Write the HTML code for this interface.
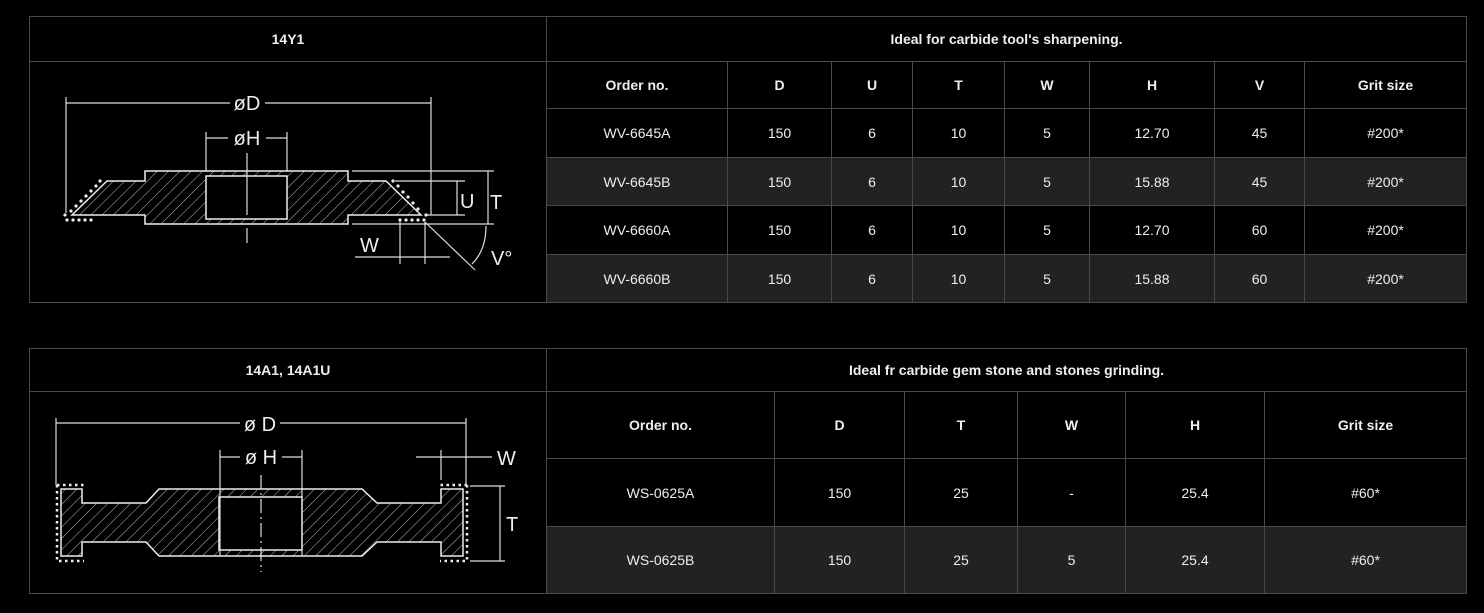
<!DOCTYPE html>
<html><head><meta charset="utf-8"><style>
body{margin:0;background:#000;width:1484px;height:613px;overflow:hidden;font-family:"Liberation Sans",Arial,sans-serif;color:#eee;position:relative}
table{position:absolute;left:29px;border-collapse:collapse;table-layout:fixed}
td{border:1px solid #4a4a4a;text-align:center;font-size:14px;padding:0}
.h td,td.h{font-weight:bold}
tr.g td.c{background:#222}
svg{position:absolute;left:0;top:0}
</style></head><body>
<table style="top:16px;width:1438px">
<colgroup><col style="width:517px"><col style="width:181px"><col style="width:104px"><col style="width:81px"><col style="width:92px"><col style="width:85px"><col style="width:125px"><col style="width:90px"><col style="width:162px"></colgroup>
<tr style="height:45px"><td class="h">14Y1</td><td class="h" colspan="8">Ideal for carbide tool's sharpening.</td></tr>
<tr style="height:47px" class="h"><td rowspan="5"></td><td>Order no.</td><td>D</td><td>U</td><td>T</td><td>W</td><td>H</td><td>V</td><td>Grit size</td></tr>
<tr style="height:49px"><td class="c">WV-6645A</td><td class="c">150</td><td class="c">6</td><td class="c">10</td><td class="c">5</td><td class="c">12.70</td><td class="c">45</td><td class="c">#200*</td></tr>
<tr style="height:48px" class="g"><td class="c">WV-6645B</td><td class="c">150</td><td class="c">6</td><td class="c">10</td><td class="c">5</td><td class="c">15.88</td><td class="c">45</td><td class="c">#200*</td></tr>
<tr style="height:49px"><td class="c">WV-6660A</td><td class="c">150</td><td class="c">6</td><td class="c">10</td><td class="c">5</td><td class="c">12.70</td><td class="c">60</td><td class="c">#200*</td></tr>
<tr style="height:48px" class="g"><td class="c">WV-6660B</td><td class="c">150</td><td class="c">6</td><td class="c">10</td><td class="c">5</td><td class="c">15.88</td><td class="c">60</td><td class="c">#200*</td></tr>
</table>
<table style="top:348px;width:1438px">
<colgroup><col style="width:517px"><col style="width:228px"><col style="width:130px"><col style="width:113px"><col style="width:108px"><col style="width:139px"><col style="width:202px"></colgroup>
<tr style="height:43px"><td class="h">14A1, 14A1U</td><td class="h" colspan="6">Ideal fr carbide gem stone and stones grinding.</td></tr>
<tr style="height:67px" class="h"><td rowspan="3"></td><td>Order no.</td><td>D</td><td>T</td><td>W</td><td>H</td><td>Grit size</td></tr>
<tr style="height:68px"><td class="c">WS-0625A</td><td class="c">150</td><td class="c">25</td><td class="c">-</td><td class="c">25.4</td><td class="c">#60*</td></tr>
<tr style="height:67px" class="g"><td class="c">WS-0625B</td><td class="c">150</td><td class="c">25</td><td class="c">5</td><td class="c">25.4</td><td class="c">#60*</td></tr>
</table>
<svg width="1484" height="613" fill="none" stroke="#ddd" stroke-width="1.2">
<defs><pattern id="hp" width="8" height="8" patternUnits="userSpaceOnUse" patternTransform="rotate(45)"><line x1="0" y1="0" x2="0" y2="8" stroke="#bbb" stroke-width="1"/></pattern></defs>
<g>
<line x1="66" y1="97" x2="66" y2="213"/><line x1="431" y1="97" x2="431" y2="215"/>
<line x1="66" y1="103" x2="230" y2="103"/><line x1="265" y1="103" x2="431" y2="103"/>
<text x="247" y="110" fill="#eee" stroke="none" font-size="20" text-anchor="middle" font-family="Liberation Sans">øD</text>
<line x1="206" y1="132" x2="206" y2="171"/><line x1="287" y1="132" x2="287" y2="171"/>
<line x1="206" y1="138" x2="228" y2="138"/><line x1="266" y1="138" x2="287" y2="138"/>
<text x="247" y="145" fill="#eee" stroke="none" font-size="20" text-anchor="middle" font-family="Liberation Sans">øH</text>
<path d="M145 171 H348 V181 H386 L421 215 H348 V224 H145 V215 H72 L107 181 H145 Z" fill="url(#hp)" stroke="#eee" stroke-width="1.5"/>
<rect x="206" y="176" width="81" height="43" fill="#000" stroke="#eee" stroke-width="1.5"/>
<line x1="247" y1="153" x2="247" y2="215"/><line x1="247" y1="228" x2="247" y2="243"/>
<line x1="352" y1="171" x2="494" y2="171"/><line x1="352" y1="224" x2="494" y2="224"/>
<line x1="488" y1="171" x2="488" y2="224"/>
<text x="490" y="209" fill="#eee" stroke="none" font-size="20" font-family="Liberation Sans">T</text>
<line x1="395" y1="181" x2="465" y2="181"/><line x1="425" y1="215" x2="465" y2="215"/>
<line x1="457" y1="181" x2="457" y2="215"/>
<text x="460" y="208" fill="#eee" stroke="none" font-size="20" font-family="Liberation Sans">U</text>
<line x1="400" y1="222" x2="400" y2="264"/><line x1="425" y1="222" x2="425" y2="264"/>
<line x1="355" y1="257" x2="450" y2="257"/>
<text x="360" y="252" fill="#eee" stroke="none" font-size="20" font-family="Liberation Sans">W</text>
<line x1="425" y1="222" x2="475" y2="270"/>
<path d="M486 226 Q486 250 472 264"/>
<text x="491" y="265" fill="#eee" stroke="none" font-size="20" font-family="Liberation Sans">V°</text>
<g fill="#eee" stroke="none">
<circle cx="100" cy="181" r="1.6"/><circle cx="96" cy="186" r="1.6"/><circle cx="91" cy="191" r="1.6"/><circle cx="86" cy="196" r="1.6"/><circle cx="81" cy="201" r="1.6"/><circle cx="76" cy="206" r="1.6"/><circle cx="71" cy="211" r="1.6"/><circle cx="65" cy="215" r="1.6"/>
<circle cx="67" cy="220" r="1.6"/><circle cx="73" cy="220" r="1.6"/><circle cx="79" cy="220" r="1.6"/><circle cx="85" cy="220" r="1.6"/><circle cx="91" cy="220" r="1.6"/>
<circle cx="393" cy="181" r="1.6"/><circle cx="398" cy="186" r="1.6"/><circle cx="403" cy="192" r="1.6"/><circle cx="408" cy="197" r="1.6"/><circle cx="413" cy="203" r="1.6"/><circle cx="418" cy="209" r="1.6"/><circle cx="426" cy="215" r="1.6"/>
<circle cx="400" cy="220" r="1.6"/><circle cx="406" cy="220" r="1.6"/><circle cx="412" cy="220" r="1.6"/><circle cx="418" cy="220" r="1.6"/><circle cx="424" cy="220" r="1.6"/>
</g>
</g>
<g>
<line x1="56" y1="418" x2="56" y2="485"/><line x1="466" y1="418" x2="466" y2="485"/>
<line x1="56" y1="423" x2="240" y2="423"/><line x1="280" y1="423" x2="466" y2="423"/>
<text x="260" y="431" fill="#eee" stroke="none" font-size="20" text-anchor="middle" font-family="Liberation Sans">ø D</text>
<line x1="220" y1="450" x2="220" y2="489"/><line x1="302" y1="450" x2="302" y2="489"/>
<line x1="220" y1="457" x2="240" y2="457"/><line x1="282" y1="457" x2="302" y2="457"/>
<text x="261" y="464" fill="#eee" stroke="none" font-size="20" text-anchor="middle" font-family="Liberation Sans">ø H</text>
<line x1="441" y1="450" x2="441" y2="480"/>
<line x1="416" y1="457" x2="492" y2="457"/>
<text x="497" y="465" fill="#eee" stroke="none" font-size="20" font-family="Liberation Sans">W</text>
<path d="M61 489 H82 V503 H146 L159 489 H362 L377 503 H441 V489 H463 V556 H441 V542 H377 L362 556 H159 L146 542 H82 V556 H61 Z" fill="url(#hp)" stroke="#eee" stroke-width="1.5"/>
<rect x="219" y="497" width="83" height="53" fill="#000" stroke="#eee" stroke-width="1.5"/>
<line x1="220" y1="489" x2="220" y2="556"/><line x1="302" y1="489" x2="302" y2="556"/>
<line x1="261" y1="475" x2="261" y2="572" stroke-dasharray="14 4 2 4"/>
<line x1="470" y1="486" x2="505" y2="486"/><line x1="470" y1="561" x2="505" y2="561"/>
<line x1="500" y1="486" x2="500" y2="561"/>
<text x="506" y="531" fill="#eee" stroke="none" font-size="20" font-family="Liberation Sans">T</text>
<g fill="none" stroke="#eee" stroke-width="2.5" stroke-dasharray="2.5 3.5">
<path d="M57 485 V561 H84"/><path d="M57 485 H84"/>
<path d="M467 485 V561 H440"/><path d="M467 485 H440"/>
</g>
</g>
</svg>
</body></html>
